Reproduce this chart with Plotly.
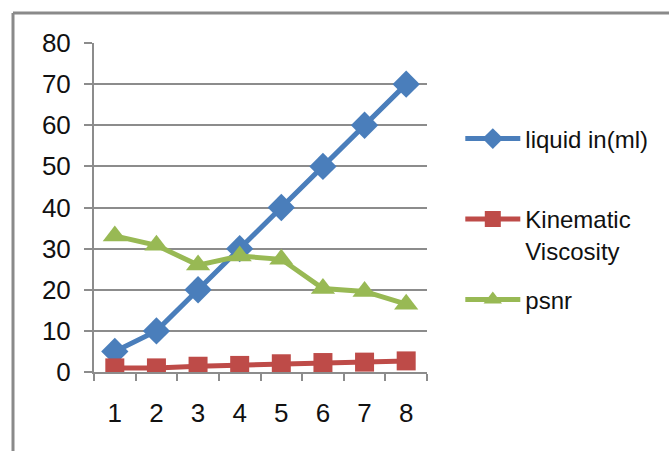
import plotly.graph_objects as go

# Sample index along the x axis
samples = ["1", "2", "3", "4", "5", "6", "7", "8"]

# Measured series
liquid_ml = [5, 10, 20, 30, 40, 50, 60, 70]
kinematic_viscosity = [1.0, 1.0, 1.4, 1.6, 2.0, 2.3, 2.4, 2.7]
psnr = [33.1, 30.8, 26.0, 28.2, 27.4, 20.3, 19.6, 16.5]

y_ticks = [0, 10, 20, 30, 40, 50, 60, 70, 80]

FONT = "Liberation Sans, Arial, sans-serif"
GRID = "#8c8c8c"

W, H = 669, 451
L, R, T, B = 94, 242, 43, 79
pw = W - L - R
ph = H - T - B


def py(px):
    """Convert a pixel row to a paper y coordinate."""
    return (H - B - px) / ph


fig = go.Figure()

fig.add_trace(go.Scatter(
    x=samples, y=liquid_ml, name="liquid in(ml)", mode="lines+markers",
    line=dict(color="#4a7ebb", width=5),
    marker=dict(symbol="diamond", size=21, color="#4a7ebb"),
    legend="legend",
))
fig.add_trace(go.Scatter(
    x=samples, y=kinematic_viscosity, name="Kinematic<br>Viscosity", mode="lines+markers",
    line=dict(color="#be4b48", width=5),
    marker=dict(symbol="square", size=19, color="#be4b48"),
    legend="legend2",
))
fig.add_trace(go.Scatter(
    x=samples, y=psnr, name="psnr", mode="lines+markers",
    line=dict(color="#98b954", width=5),
    marker=dict(symbol="triangle-up", size=21, color="#98b954"),
    legend="legend3",
))

# Outer chart frame (left and top edges visible)
fx0 = (13 - L) / pw
fy1 = py(13)
fig.add_shape(type="line", xref="paper", yref="paper",
              x0=fx0, x1=fx0, y0=-0.5, y1=fy1,
              line=dict(color="#8a8a8a", width=3))
fig.add_shape(type="line", xref="paper", yref="paper",
              x0=fx0, x1=1.9, y0=fy1, y1=fy1,
              line=dict(color="#8a8a8a", width=3))

legend_common = dict(
    x=1.1, xanchor="left", yanchor="middle",
    itemwidth=55, valign="top",
    font=dict(family=FONT, size=24, color="#111111"),
    bgcolor="rgba(0,0,0,0)",
)

fig.update_layout(
    width=W, height=H,
    margin=dict(l=L, r=R, t=T, b=B, pad=0),
    paper_bgcolor="white", plot_bgcolor="white",
    font=dict(family=FONT, size=24, color="#111111"),
    showlegend=True,
    legend=dict(legend_common, y=py(139)),
    legend2=dict(legend_common, y=py(235)),
    legend3=dict(legend_common, y=py(300)),
)

fig.update_xaxes(
    type="category", tickson="boundaries",
    ticks="outside", ticklen=7, tickcolor=GRID, tickwidth=2,
    showline=True, linecolor=GRID, linewidth=2,
    showgrid=False, zeroline=False,
    tickfont=dict(family=FONT, size=26, color="#111111"),
    ticklabelstandoff=17,
    range=[-0.5, 7.5],
)
fig.update_yaxes(
    range=[0, 80], tickvals=y_ticks,
    ticks="outside", ticklen=8, tickcolor=GRID, tickwidth=2,
    showline=True, linecolor=GRID, linewidth=2,
    showgrid=True, gridcolor=GRID, gridwidth=2,
    zeroline=False,
    tickfont=dict(family=FONT, size=26, color="#111111"),
    ticklabelstandoff=8,
)

fig.write_html("out.html")
